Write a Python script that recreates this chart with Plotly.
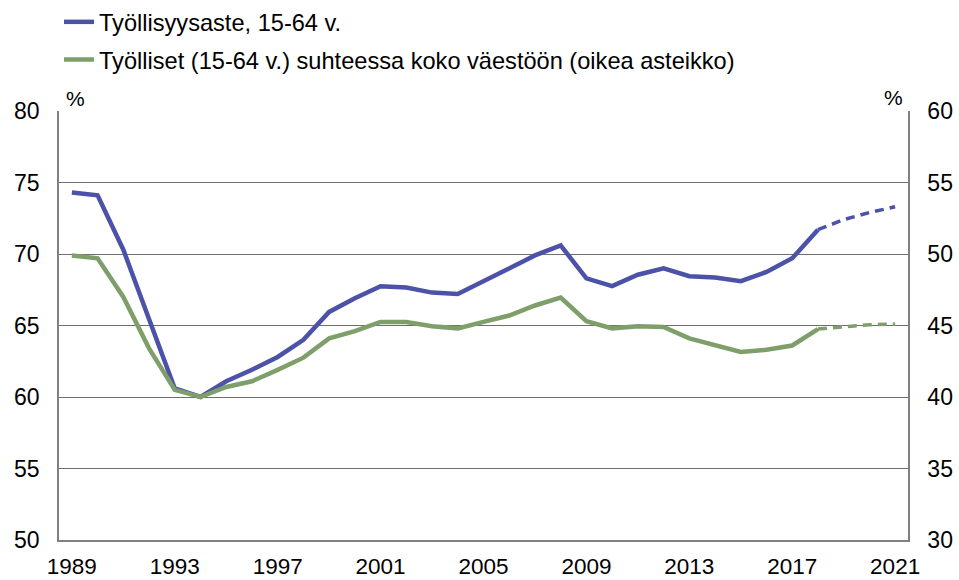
import plotly.graph_objects as go

years = list(range(1989, 2022))
# Työllisyysaste, 15-64 v. (left axis)
rate = [74.3, 74.1, 70.3, 65.4, 60.6, 60.0, 61.1, 61.9, 62.8, 64.0,
        65.95, 66.9, 67.75, 67.65, 67.3, 67.2, 68.1, 69.0, 69.9, 70.6,
        68.3, 67.75, 68.55, 69.0, 68.45, 68.35, 68.1, 68.75, 69.7, 71.7,
        72.4, 72.9, 73.3]
# Työlliset (15-64 v.) suhteessa koko väestöön (right axis)
share = [49.9, 49.7, 47.0, 43.4, 40.5, 40.0, 40.7, 41.1, 41.9, 42.75,
         44.1, 44.6, 45.25, 45.25, 44.95, 44.8, 45.25, 45.7, 46.4, 46.95,
         45.3, 44.8, 44.95, 44.9, 44.1, 43.6, 43.15, 43.3, 43.6, 44.75,
         44.9, 45.05, 45.1]
forecast_start = 2018
xtick_years = list(range(1989, 2022, 4))
left_ticks = [50, 55, 60, 65, 70, 75, 80]
right_ticks = [30, 35, 40, 45, 50, 55, 60]

BLUE = "#4B52A8"
GREEN = "#7F9F6A"
FONT = "Liberation Sans, Arial, sans-serif"

i0 = years.index(forecast_start)

fig = go.Figure()
fig.add_trace(go.Scatter(x=years[:i0 + 1], y=rate[:i0 + 1], mode="lines",
                         line=dict(color=BLUE, width=4.5),
                         name="Työllisyysaste, 15-64 v.", legend="legend"))
fig.add_trace(go.Scatter(x=years[i0:], y=rate[i0:], mode="lines",
                         line=dict(color=BLUE, width=3.5, dash="9px,6px"),
                         showlegend=False))
fig.add_trace(go.Scatter(x=years[:i0 + 1], y=share[:i0 + 1], mode="lines",
                         line=dict(color=GREEN, width=4.5), yaxis="y2",
                         name="Työlliset (15-64 v.) suhteessa koko väestöön (oikea asteikko)",
                         legend="legend2"))
fig.add_trace(go.Scatter(x=years[i0:], y=share[i0:], mode="lines",
                         line=dict(color=GREEN, width=3.5, dash="9px,6px"), yaxis="y2",
                         showlegend=False))

fig.update_layout(
    width=959, height=580,
    margin=dict(l=59, r=51, t=111, b=40, autoexpand=False),
    paper_bgcolor="white", plot_bgcolor="white",
    font=dict(family=FONT, size=22, color="#000000"),
    xaxis=dict(range=[1988.5, 2021.5], tickvals=xtick_years,
               ticktext=[str(y) for y in xtick_years],
               showgrid=False, zeroline=False, automargin=False,
               showline=True, linecolor="#808080", linewidth=1.5,
               ticks="", ticklabelstandoff=5,
               tickfont=dict(size=22.5)),
    yaxis=dict(range=[50, 80], tickvals=left_ticks, automargin=False,
               showgrid=True, gridcolor="#6e6e6e", gridwidth=1,
               zeroline=False, showline=True, linecolor="#808080", linewidth=1.5,
               ticks="", ticklabelstandoff=13, tickfont=dict(size=23)),
    yaxis2=dict(range=[30, 60], tickvals=right_ticks, overlaying="y", side="right",
                showgrid=False, zeroline=False, showline=True, automargin=False,
                linecolor="#808080", linewidth=1.5,
                ticks="", ticklabelstandoff=13, tickfont=dict(size=23)),
    legend=dict(x=0.0, y=1.011, xref="paper", yref="container", xanchor="left",
                yanchor="top", bgcolor="rgba(0,0,0,0)",
                font=dict(size=23.6), itemwidth=30),
    legend2=dict(x=0.0, y=0.935, xref="paper", yref="container", xanchor="left",
                 yanchor="top", bgcolor="rgba(0,0,0,0)",
                 font=dict(size=23.6), itemwidth=30),
    showlegend=True,
)

fig.add_annotation(text="%", xref="paper", yref="paper", x=0.0, y=1.0,
                   xanchor="left", yanchor="bottom", xshift=5, yshift=-1,
                   showarrow=False, font=dict(size=21))
fig.add_annotation(text="%", xref="paper", yref="paper", x=1.0, y=1.0,
                   xanchor="right", yanchor="bottom", xshift=-3, yshift=0,
                   showarrow=False, font=dict(size=21))

fig.write_html("out.html", config={"displayModeBar": False},
               post_script="document.body.style.margin='0';")
